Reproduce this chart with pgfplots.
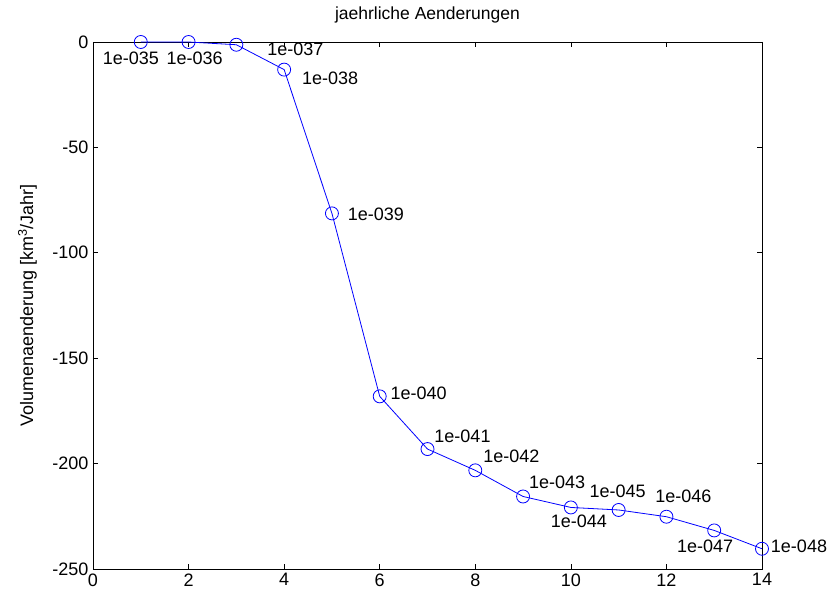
\documentclass[border=0pt]{standalone}
\usepackage{pgfplots}
\pgfplotsset{compat=1.18}
\usepackage{fontspec}
\setmainfont{Liberation Sans}
\definecolor{mblue}{RGB}{0,0,255}
\begin{document}
\begin{tikzpicture}
\useasboundingbox (-93bp,-30bp) rectangle (741bp,569bp);
\begin{axis}[
  scale only axis,
  width=669bp, height=527bp,
  xmin=0, xmax=14, ymin=-250, ymax=0,
  xtick={0,2,...,14},
  ytick={-250,-200,-150,-100,-50,0},
  tick align=inside,
  major tick length=5bp,
  tick style={black, line width=0.6bp},
  axis line style={black, line width=0.8bp},
  /pgf/number format/assume math mode=true,
  ticklabel style={font=\fontsize{18bp}{20bp}\selectfont},
  xticklabel style={yshift=-1bp},
  yticklabel style={xshift=-1bp},
  title={jaehrliche Aenderungen},
  title style={font=\fontsize{17.5bp}{20bp}\selectfont, at={(axis description cs:0.5,1)}, anchor=base, yshift=17bp, inner sep=0pt},
  ylabel={Volumenaenderung [km\textsuperscript{3}/Jahr]},
  ylabel style={font=\fontsize{18bp}{20bp}\selectfont, at={(axis description cs:-0.0837,0.5)}, anchor=south, inner sep=0pt},
  clip=false,
]
\addplot[mblue, line width=0.8bp, mark=o, mark size=6.5bp, mark options={line width=0.8bp}] coordinates {
(1,0) (2,0) (3,-1.3) (4,-13.1) (5,-81.3) (6,-168.1) (7,-193.1) (8,-203.2)
(9,-215.6) (10,-220.8) (11,-222.0) (12,-225.2) (13,-231.7) (14,-240.4)
};
\begin{scope}[every node/.style={font=\fontsize{18bp}{20bp}\selectfont, inner sep=0pt, anchor=center}]
\node[xshift=-10bp, yshift=-16bp] at (axis cs:1,0) {1e-035};
\node[xshift=6bp, yshift=-16bp] at (axis cs:2,0) {1e-036};
\node[xshift=59bp, yshift=-5bp] at (axis cs:3,-1.3) {1e-037};
\node[xshift=46bp, yshift=-9bp] at (axis cs:4,-13.1) {1e-038};
\node[xshift=44bp, yshift=-1bp] at (axis cs:5,-81.3) {1e-039};
\node[xshift=39bp, yshift=3bp] at (axis cs:6,-168.1) {1e-040};
\node[xshift=35bp, yshift=13bp] at (axis cs:7,-193.1) {1e-041};
\node[xshift=36bp, yshift=14bp] at (axis cs:8,-203.2) {1e-042};
\node[xshift=34bp, yshift=14bp] at (axis cs:9,-215.6) {1e-043};
\node[xshift=8bp, yshift=-14bp] at (axis cs:10,-220.8) {1e-044};
\node[xshift=-1bp, yshift=19bp] at (axis cs:11,-222.0) {1e-045};
\node[xshift=17bp, yshift=20bp] at (axis cs:12,-225.2) {1e-046};
\node[xshift=-9bp, yshift=-16bp] at (axis cs:13,-231.7) {1e-047};
\node[xshift=37bp, yshift=2bp] at (axis cs:14,-240.4) {1e-048};
\end{scope}
\end{axis}
\end{tikzpicture}
\end{document}
